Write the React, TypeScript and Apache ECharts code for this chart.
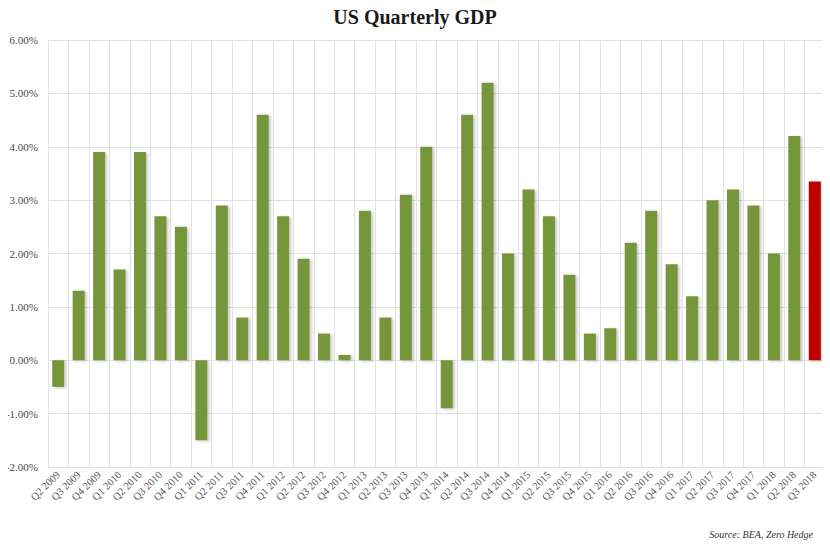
import React, { useEffect, useRef } from "react";
import * as echarts from "echarts";

const categories = [
  "Q2 2009", "Q3 2009", "Q4 2009", "Q1 2010", "Q2 2010", "Q3 2010", "Q4 2010",
  "Q1 2011", "Q2 2011", "Q3 2011", "Q4 2011", "Q1 2012", "Q2 2012", "Q3 2012",
  "Q4 2012", "Q1 2013", "Q2 2013", "Q3 2013", "Q4 2013", "Q1 2014", "Q2 2014",
  "Q3 2014", "Q4 2014", "Q1 2015", "Q2 2015", "Q3 2015", "Q4 2015", "Q1 2016",
  "Q2 2016", "Q3 2016", "Q4 2016", "Q1 2017", "Q2 2017", "Q3 2017", "Q4 2017",
  "Q1 2018", "Q2 2018", "Q3 2018",
];

const gdpGrowth = [
  -0.5, 1.3, 3.9, 1.7, 3.9, 2.7, 2.5,
  -1.5, 2.9, 0.8, 4.6, 2.7, 1.9, 0.5,
  0.1, 2.8, 0.8, 3.1, 4.0, -0.9, 4.6,
  5.2, 2.0, 3.2, 2.7, 1.6, 0.5, 0.6,
  2.2, 2.8, 1.8, 1.2, 3.0, 3.2, 2.9,
  2.0, 4.2, 3.35,
];

const highlightIndex = 37;

const yMin = -2;
const yMax = 6;
const yStep = 1;

const GREEN = "#76963a";
const RED = "#c00000";
const SERIF = "'Liberation Serif', 'DejaVu Serif', serif";

export default function App() {
  const ref = useRef<HTMLDivElement>(null);

  useEffect(() => {
    if (!ref.current) return;
    const chart = echarts.init(ref.current, null, { renderer: "svg" });
    chart.setOption({
      animation: false,
      backgroundColor: "#ffffff",
      title: {
        text: "US Quarterly GDP",
        left: "center",
        top: 2,
        textStyle: {
          fontFamily: SERIF,
          fontSize: 20,
          fontWeight: "bold",
          color: "#1a1a1a",
        },
      },
      grid: { left: 48, right: 5, top: 40, bottom: 81, containLabel: false },
      xAxis: {
        type: "category",
        data: categories,
        position: "bottom",
        axisLine: { show: true, onZero: false, lineStyle: { color: "#dcdcdc" } },
        axisTick: { show: false },
        splitLine: { show: true, interval: 0, lineStyle: { color: "#e2e2e2" } },
        axisLabel: {
          interval: 0,
          rotate: 45,
          margin: 6,
          fontFamily: SERIF,
          fontSize: 10.5,
          color: "#555",
        },
      },
      yAxis: {
        type: "value",
        min: yMin,
        max: yMax,
        interval: yStep,
        axisLine: { show: true, lineStyle: { color: "#e2e2e2" } },
        axisTick: { show: false },
        splitLine: { show: true, lineStyle: { color: "#e2e2e2" } },
        axisLabel: {
          margin: 10,
          fontFamily: SERIF,
          fontSize: 11,
          color: "#4a4a4a",
          formatter: (v: number) => v.toFixed(2) + "%",
        },
      },
      series: [
        {
          type: "bar",
          barWidth: 12,
          data: gdpGrowth.map((v, i) => ({
            value: v,
            itemStyle: {
              color: i === highlightIndex ? RED : GREEN,
              shadowColor: "rgba(0,0,0,0.22)",
              shadowBlur: 3,
              shadowOffsetX: 2,
              shadowOffsetY: 1,
            },
          })),
        },
      ],
      graphic: [
        {
          type: "text",
          right: 17,
          top: 529,
          style: {
            text: "Source: BEA, Zero Hedge",
            font: "italic 10px " + SERIF,
            fill: "#333",
          },
        },
      ],
    });
    return () => chart.dispose();
  }, []);

  return <div ref={ref} style={{ width: 830, height: 548, margin: -8 }} />;
}
